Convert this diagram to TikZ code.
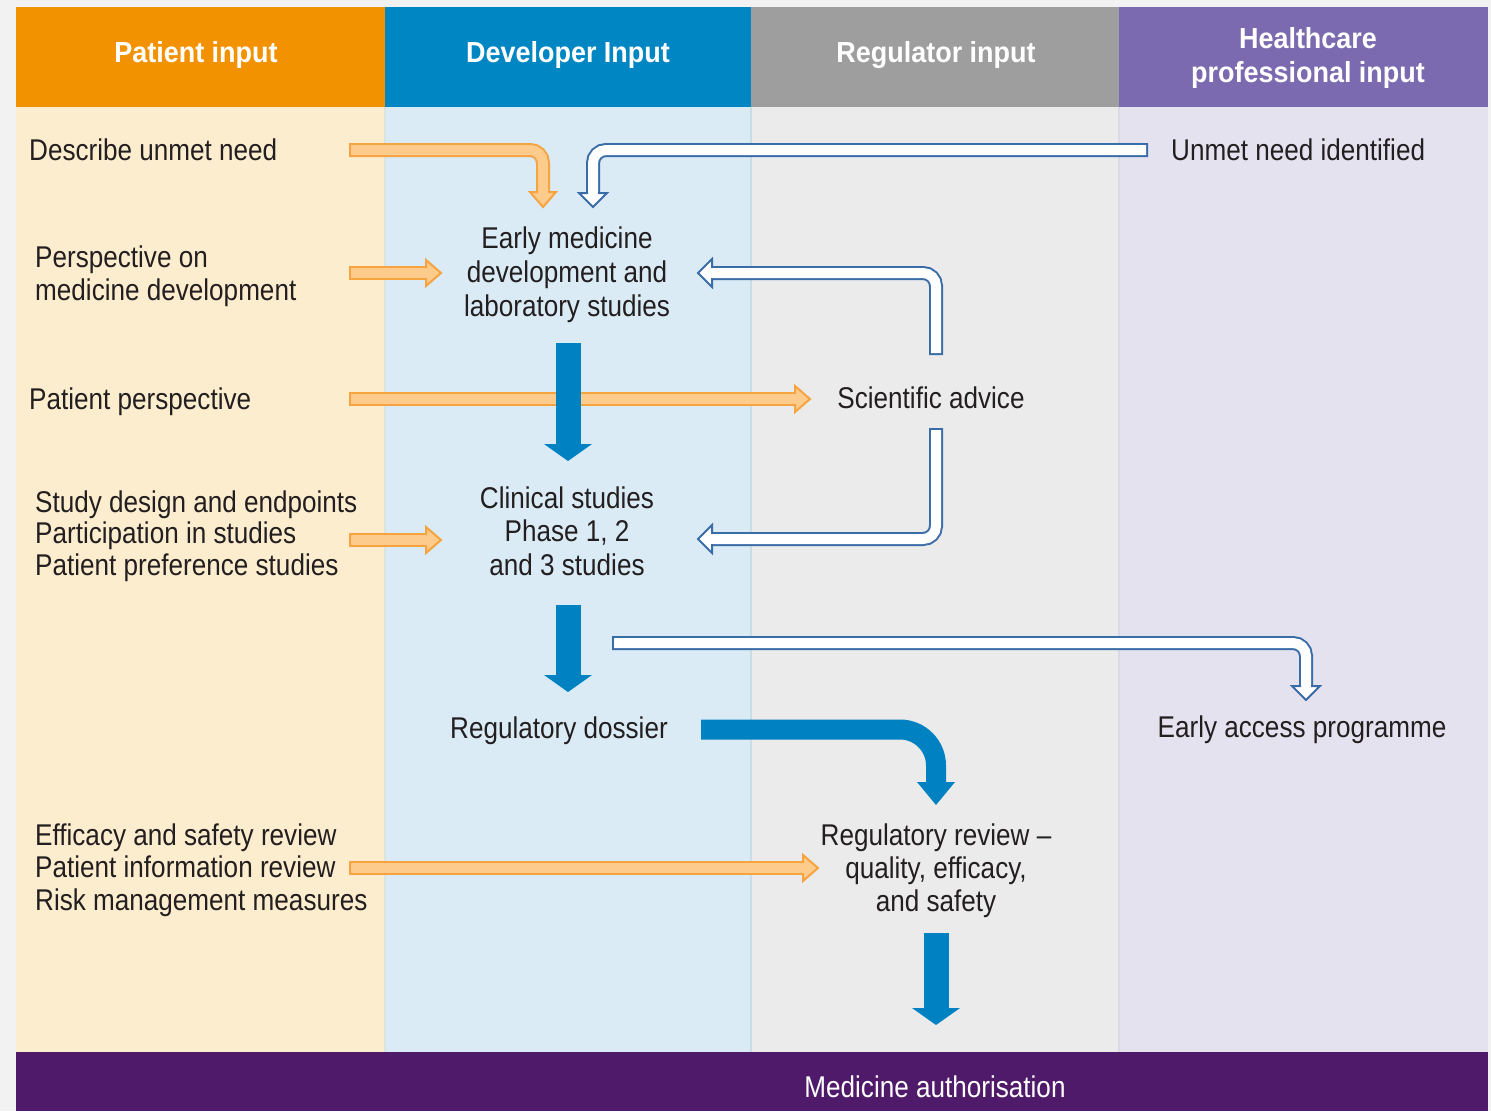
\documentclass[tikz,border=0pt]{standalone}
\usepackage{fontspec}
\setmainfont{Liberation Sans}
\newfontfamily\bodyfont[FakeStretch=0.87]{Liberation Sans}
\newfontfamily\headfont[FakeStretch=0.93]{Liberation Sans}
\newcommand\fstrut{\rule{0pt}{22pt}}
\definecolor{pagebg}{HTML}{F2F2F2}
\definecolor{hdrO}{HTML}{F39200}
\definecolor{hdrB}{HTML}{0086C2}
\definecolor{hdrG}{HTML}{9E9E9E}
\definecolor{hdrP}{HTML}{7B6AAF}
\definecolor{bodyO}{HTML}{FDEDCF}
\definecolor{bodyB}{HTML}{DAEBF5}
\definecolor{bodyG}{HTML}{EBEBEB}
\definecolor{bodyP}{HTML}{E4E2EE}
\definecolor{barP}{HTML}{501A6B}
\definecolor{txt}{HTML}{231F20}
\definecolor{arrB}{HTML}{0081C1}
\definecolor{hEdge}{HTML}{3A6CA8}
\definecolor{orEdge}{HTML}{F6A340}
\definecolor{orFill}{HTML}{FDCB8C}
\tikzset{
  body/.style={inner sep=0pt, text=txt, font=\bodyfont\fontsize{30}{#1}\selectfont},
  body/.default=33,
  hdr/.style={inner sep=0pt, text=white, font=\headfont\bfseries\fontsize{29}{34}\selectfont},
  oshaft/.style={draw=orEdge, double=orFill, line width=2pt, double distance=10pt, line cap=rect, rounded corners=13pt},
  wshaft/.style={draw=hEdge, double=white, line width=2pt, double distance=10pt, line cap=rect, rounded corners=13pt},
  bshaft/.style={draw=arrB, line width=25pt},
  bcshaft/.style={draw=arrB, line width=20pt, rounded corners=36pt},
  pics/ohead/.style={code={
    \fill[orFill] (-15,-5) -- (-15,-13) -- (0,0) -- (-15,13) -- (-15,5) -- cycle;
    \draw[orEdge, line width=2pt, line join=miter] (-15,-5) -- (-15,-13) -- (0,0) -- (-15,13) -- (-15,5);
  }},
  pics/whead/.style={code={
    \fill[white] (-14,-5) -- (-14,-14) -- (0,0) -- (-14,14) -- (-14,5) -- cycle;
    \draw[hEdge, line width=2pt, line join=miter] (-14,-5) -- (-14,-14) -- (0,0) -- (-14,14) -- (-14,5);
  }},
  pics/bhead/.style={code={\fill[arrB] (-17,-24) -- (0,0) -- (-17,24) -- cycle;}},
  pics/bchead/.style={code={\fill[arrB] (-23,-19) -- (0,0) -- (-23,19) -- cycle;}},
}
\begin{document}
\begin{tikzpicture}[x=1pt,y=-1pt]
\useasboundingbox (0,0) rectangle (1491,1111);
\fill[pagebg] (0,0) rectangle (1491,1111);
% column bodies
\fill[bodyO] (16,107) rectangle (385,1052);
\fill[bodyB] (385,107) rectangle (751,1052);
\fill[bodyG] (751,107) rectangle (1119,1052);
\fill[bodyP] (1119,107) rectangle (1488,1052);
\draw[line width=1.2pt, color=hdrO!8!bodyB] (385,107) -- (385,1052);
\draw[line width=1.2pt, color=hdrB!14!bodyG] (751,107) -- (751,1052);
\draw[line width=1.2pt, color=hdrP!14!bodyG] (1119,107) -- (1119,1052);
% headers
\fill[hdrO] (16,7) rectangle (385,107);
\fill[hdrB] (385,7) rectangle (751,107);
\fill[hdrG] (751,7) rectangle (1119,107);
\fill[hdrP] (1119,7) rectangle (1488,107);
\fill[barP] (16,1052) rectangle (1488,1111);

\node[hdr, anchor=base] (hpat) at (196,62) {Patient input};
\node[hdr, anchor=base] (hdev) at (568,62) {Developer Input};
\node[hdr, anchor=base] (hreg) at (936,62) {Regulator input};
\node[hdr, anchor=north, align=center] (hhcp) at (1308,27) {\rule{0pt}{21pt}Healthcare\\professional input};

% texts
\node[body, anchor=base west] (describe) at (29,160) {Describe unmet need};
\node[body, anchor=north west, align=left] (perspective) at (35,245) {\fstrut Perspective on\\medicine development};
\node[body, anchor=base west] (patpersp) at (29,409) {Patient perspective};
\node[body=31.5, anchor=north west, align=left] (study) at (35,490) {\fstrut Study design and endpoints\\Participation in studies\\Patient preference studies};
\node[body=32.5, anchor=north west, align=left] (efficacy) at (35,823) {\fstrut Efficacy and safety review\\Patient information review\\Risk management measures};
\node[body=34, anchor=north, align=center] (early) at (567,226) {\fstrut Early medicine\\development and\\laboratory studies};
\node[body=33.5, anchor=north, align=center] (clinical) at (567,486) {\fstrut Clinical studies\\Phase 1, 2\\and 3 studies};
\node[body, anchor=base] (dossier) at (559,738) {Regulatory dossier};
\node[body, anchor=base] (sciadv) at (931,408) {Scientific advice};
\node[body, anchor=north, align=center] (review) at (936,823) {\fstrut Regulatory review –\\quality, efficacy,\\and safety};
\node[body, anchor=base west] (unmet) at (1171,160) {Unmet need identified};
\node[body, anchor=base] (eap) at (1302,737) {Early access programme};
\node[inner sep=0pt, text=white, font=\bodyfont\fontsize{30}{33}\selectfont, anchor=base] (auth) at (935,1097) {Medicine authorisation};

% connector end points
\coordinate (describe-o) at (356,150);
\coordinate (o1c) at (543,150);
\coordinate (o1e) at (543,187);
\coordinate (o1t) at (543,207);
\coordinate (persp-o) at (356,273);
\coordinate (o2e) at (421,273);
\coordinate (o2t) at (441,273);
\coordinate (patp-o) at (356,399);
\coordinate (o3e) at (790,399);
\coordinate (o3t) at (810,399);
\coordinate (study-o) at (356,540);
\coordinate (o4e) at (421,540);
\coordinate (o4t) at (441,540);
\coordinate (eff-o) at (356,868);
\coordinate (o5e) at (798,868);
\coordinate (o5t) at (818,868);

\coordinate (unmet-o) at (1141,150);
\coordinate (w1c) at (593,150);
\coordinate (w1e) at (593,188);
\coordinate (w1t) at (593,207);
\coordinate (sci-up) at (936,348);
\coordinate (w2c) at (936,273);
\coordinate (w2e) at (717,273);
\coordinate (w2t) at (698,273);
\coordinate (sci-dn) at (936,435);
\coordinate (w3c) at (936,539);
\coordinate (w3e) at (717,539);
\coordinate (w3t) at (698,539);
\coordinate (clin-r) at (619,643);
\coordinate (w4c) at (1306,643);
\coordinate (w4e) at (1306,681);
\coordinate (w4t) at (1306,700);

\coordinate (early-s) at (568,343);
\coordinate (b1e) at (568,445);
\coordinate (b1t) at (568,461);
\coordinate (clin-s) at (568,605);
\coordinate (b2e) at (568,676);
\coordinate (b2t) at (568,692);
\coordinate (doss-s) at (701,729.5);
\coordinate (b3c) at (936,729.5);
\coordinate (b3e) at (936,783);
\coordinate (b3t) at (936,805);
\coordinate (rev-s) at (936,933);
\coordinate (b4e) at (936,1009);
\coordinate (b4t) at (936,1025);

% orange arrows
\draw[oshaft] (describe-o) -- (o1c) -- (o1e);
\pic[rotate=-90] at (o1t) {ohead};
\draw[oshaft] (persp-o) -- (o2e);
\pic at (o2t) {ohead};
\draw[oshaft] (patp-o) -- (o3e);
\pic at (o3t) {ohead};
\draw[oshaft] (study-o) -- (o4e);
\pic at (o4t) {ohead};
\draw[oshaft] (eff-o) -- (o5e);
\pic at (o5t) {ohead};

% hollow arrows
\draw[wshaft] (unmet-o) -- (w1c) -- (w1e);
\pic[rotate=-90] at (w1t) {whead};
\draw[wshaft] (sci-up) -- (w2c) -- (w2e);
\pic[rotate=180] at (w2t) {whead};
\draw[wshaft] (sci-dn) -- (w3c) -- (w3e);
\pic[rotate=180] at (w3t) {whead};
\draw[wshaft] (clin-r) -- (w4c) -- (w4e);
\pic[rotate=-90] at (w4t) {whead};

% solid blue arrows
\draw[bshaft] (early-s) -- (b1e);
\pic[rotate=-90] at (b1t) {bhead};
\draw[bshaft] (clin-s) -- (b2e);
\pic[rotate=-90] at (b2t) {bhead};
\draw[bcshaft] (doss-s) -- (b3c) -- (b3e);
\pic[rotate=-90] at (b3t) {bchead};
\draw[bshaft] (rev-s) -- (b4e);
\pic[rotate=-90] at (b4t) {bhead};
\end{tikzpicture}
\end{document}
